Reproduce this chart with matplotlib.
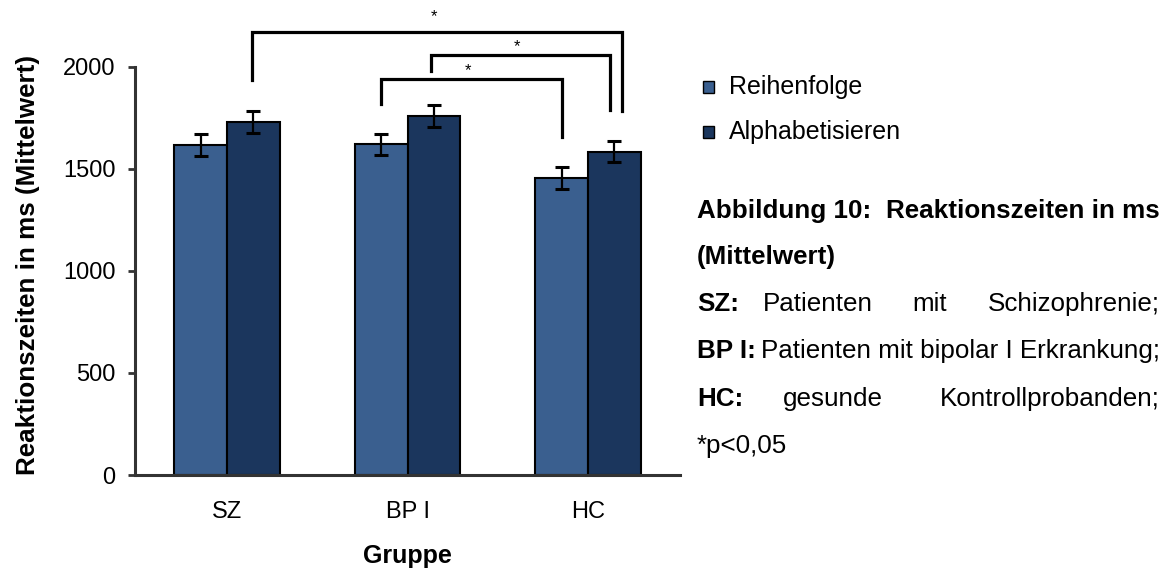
import numpy as np
import matplotlib
matplotlib.use("Agg")
import matplotlib.pyplot as plt
from matplotlib.patches import Rectangle

plt.rcParams['font.family'] = ['Liberation Sans', 'DejaVu Sans']

# data
groups = ["SZ", "BP I", "HC"]
series = ["Reihenfolge", "Alphabetisieren"]
reihenfolge = [1615, 1620, 1457]
alphabet = [1728, 1757, 1584]
err_reihenfolge = [53, 52, 54]
err_alphabet = [54, 54, 53]
colors = ["#3A5F8F", "#1B365D"]

# significance brackets: (x left, x right, top, left leg end, right leg end, star y)
brackets = [
    (0.14, 2.19, 2170, 1936, 1781, 2245),
    (1.13, 2.12, 2055, 1977, 1789, 2098),
    (0.853, 1.856, 1940, 1819, 1658, 1982),
]

W, H = 1170, 572
fig = plt.figure(figsize=(W / 100, H / 100), dpi=100)
ax = fig.add_axes([135 / W, 1 - 475 / H, (680 - 135) / W, (475 - 66.7) / H])

x = np.arange(len(groups))
w = 0.293
ekw = dict(elinewidth=1.6, capthick=2.2, ecolor="black")
for i, (vals, errs) in enumerate([(reihenfolge, err_reihenfolge), (alphabet, err_alphabet)]):
    ax.bar(x + (i - 0.5) * w, vals, w, color=colors[i], edgecolor="black", linewidth=1.5,
           yerr=errs, capsize=5, error_kw=ekw, label=series[i], zorder=2)

ax.set_xlim(-0.51, 2.51)
ax.set_ylim(0, 2000)
ax.set_yticks([0, 500, 1000, 1500, 2000])
ax.set_xticks(x)
ax.set_xticklabels(groups)
ax.tick_params(axis="x", length=0, pad=19, labelsize=17)
ax.tick_params(axis="y", length=5, width=2, pad=9, labelsize=17, color="#333333")
for s in ["top", "right"]:
    ax.spines[s].set_visible(False)
for s in ["left", "bottom"]:
    ax.spines[s].set_linewidth(2.2)
    ax.spines[s].set_color("#333333")

fig.text(28 / W, 1 - 265 / H, "Reaktionszeiten in ms (Mittelwert)", rotation=90,
         ha="center", va="center", fontsize=18.7, fontweight="bold")
fig.text(407 / W, 1 - 556 / H, "Gruppe", ha="center", va="center", fontsize=18, fontweight="bold")

for xl, xr, top, yl, yr, ys in brackets:
    ax.plot([xl, xl, xr, xr], [yl, top, top, yr], color="black", lw=2.3,
            clip_on=False, solid_joinstyle="miter")
    ax.text((xl + xr) / 2 - 0.02, ys, "*", ha="center", va="center", fontsize=12)

# legend (manual)
for i, (lab, col) in enumerate(zip(series, colors)):
    yc = 87 + i * 45
    fig.add_artist(Rectangle(((708 - 5.5) / W, 1 - (yc + 5.5) / H), 11 / W, 11 / H,
                             facecolor=col, edgecolor="black", linewidth=1,
                             transform=fig.transFigure))
    fig.text(729 / W, 1 - yc / H, lab, fontsize=18, va="center")

# caption text on the right
fs = 18.7
L, R = 697 / W, 1160 / W
def fy(py):
    return 1 - py / H

lines_y = [211, 257, 304, 351, 399, 446]
fig.text(L, fy(lines_y[0]), "Abbildung 10:", fontsize=fs, fontweight="bold", va="center")
fig.text(R, fy(lines_y[0]), "Reaktionszeiten in ms", fontsize=fs, fontweight="bold", va="center", ha="right")
fig.text(L, fy(lines_y[1]), "(Mittelwert)", fontsize=fs, fontweight="bold", va="center")
fig.text(L, fy(lines_y[2]), "SZ:", fontsize=fs, fontweight="bold", va="center")
fig.text(763 / W, fy(lines_y[2]), "Patienten", fontsize=fs, va="center")
fig.text(930 / W, fy(lines_y[2]), "mit", fontsize=fs, va="center", ha="center")
fig.text(R, fy(lines_y[2]), "Schizophrenie;", fontsize=fs, va="center", ha="right")
fig.text(L, fy(lines_y[3]), "BP I:", fontsize=fs, fontweight="bold", va="center")
fig.text(R, fy(lines_y[3]), "Patienten mit bipolar I Erkrankung;", fontsize=fs, va="center", ha="right")
fig.text(L, fy(lines_y[4]), "HC:", fontsize=fs, fontweight="bold", va="center")
fig.text(833 / W, fy(lines_y[4]), "gesunde", fontsize=fs, va="center", ha="center")
fig.text(R, fy(lines_y[4]), "Kontrollprobanden;", fontsize=fs, va="center", ha="right")
fig.text(L, fy(lines_y[5]), "*p<0,05", fontsize=fs, va="center")

fig.savefig("out.png", dpi=100)
